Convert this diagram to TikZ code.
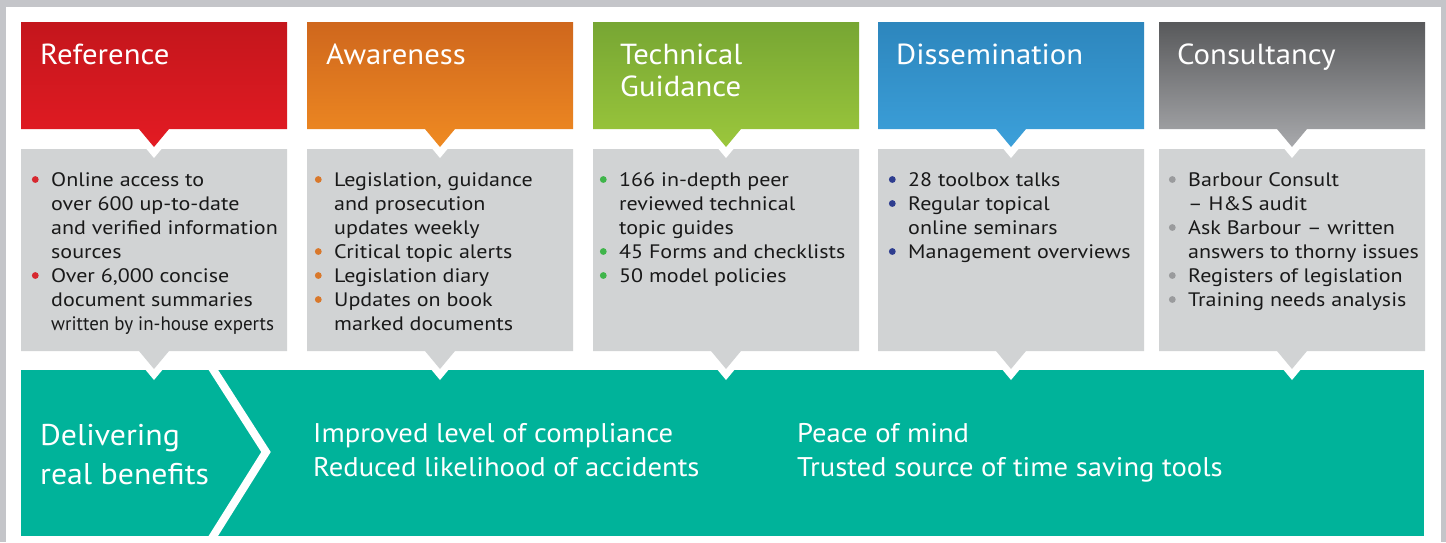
\documentclass[tikz,border=0pt]{standalone}
\usepackage{fontspec}
\usepackage{graphicx}
\setmainfont{PT Sans}
\newfontfamily\listfont{PT Sans}[FakeStretch=1.13]
\newfontfamily\bigfont{PT Sans}[FakeStretch=1.06]
\usetikzlibrary{calc}
\definecolor{framegray}{HTML}{C4C5C9}
\definecolor{boxgray}{HTML}{D1D3D4}
\definecolor{benteal}{HTML}{00B39A}
\definecolor{redtop}{HTML}{C4161C}\definecolor{redbot}{HTML}{E31B23}
\definecolor{orgtop}{HTML}{CF671D}\definecolor{orgbot}{HTML}{EF8A22}
\definecolor{grntop}{HTML}{77A633}\definecolor{grnbot}{HTML}{9BC73C}
\definecolor{blutop}{HTML}{2D86BD}\definecolor{blubot}{HTML}{3CA0DA}
\definecolor{gratop}{HTML}{58595B}\definecolor{grabot}{HTML}{A8A9AC}
\definecolor{redbul}{HTML}{D7282F}
\definecolor{orgbul}{HTML}{D9782B}
\definecolor{grnbul}{HTML}{3FB54A}
\definecolor{blubul}{HTML}{2E3D8F}
\definecolor{grabul}{HTML}{9A9B9D}
\newcommand\bul[1]{\llap{\tikz[baseline=-6.5pt]\fill[#1] (0,0) circle (3.4pt);\hspace{12.5pt}}}
\tikzset{
x=1pt, y=-1pt,
head text/.style={anchor=base west,inner sep=0pt,text=white,align=left,font=\bigfont\fontsize{29}{32}\selectfont},
list text/.style={anchor=base west,inner sep=0pt,text=black!90,align=left,font=\listfont\fontsize{19.5}{24}\selectfont},
benefit text/.style={anchor=base west,inner sep=0pt,text=white,align=left,font=\bigfont\fontsize{27}{34}\selectfont}}

\begin{document}
\begin{tikzpicture}
\useasboundingbox (0,0) rectangle (1446,542);
\fill[framegray] (0,0) rectangle (1446,542);
\fill[white] (6,7) rectangle (1441,542);

% benefits band
\fill[benteal] (21,370) rectangle (1424,536);
\begin{scope}
\clip (21,370) rectangle (1424,536);
\draw[white,line width=8pt,miter limit=10] (207,360) -- (266,452) -- (207,546);
\end{scope}

% columns: left edge / top colour / bottom colour
\foreach \x/\ct/\cb in {21/redtop/redbot,307/orgtop/orgbot,593/grntop/grnbot,878/blutop/blubot,1159/gratop/grabot}{
  \fill[white] (\x+118,362) -- (\x+133,380) -- (\x+148,362) -- cycle;
  \fill[boxgray] (\x,149) rectangle (\x+266,351) (\x+118,351) -- (\x+133,369) -- (\x+148,351) -- cycle;
  \fill[white] (\x+118,140) -- (\x+133,158) -- (\x+148,140) -- cycle;
  \shade[top color=\ct,bottom color=\cb] (\x,22) -- (\x+266,22) -- (\x+266,129) -- (\x+148,129)
    -- (\x+133,147) -- (\x+118,129) -- (\x,129) -- cycle;
}

% base anchor sits on the last line
\node[head text] (reference) at (40,64) {Reference};
\node[head text] (awareness) at (326,64) {Awareness};
\node[head text] (technical) at (620,96) {Technical\\Guidance};
\node[head text] (dissemination) at (896,64) {Dissemination};
\node[head text] (consultancy) at (1177,64) {Consultancy};

\node[list text] (referencelist) at (51,330) {\bul{redbul}Online access to\\over 600 up-to-date\\and verified information\\sources\\
  \bul{redbul}Over 6,000 concise\\document summaries\\\scalebox{0.86}[1]{written by in-house experts}};
\node[list text] (awarenesslist) at (334,330) {\bul{orgbul}Legislation, guidance\\and prosecution\\updates weekly\\
  \bul{orgbul}Critical topic alerts\\\bul{orgbul}Legislation diary\\\bul{orgbul}Updates on book\\marked documents};
\node[list text] (technicallist) at (619,282) {\bul{grnbul}166 in-depth peer\\reviewed technical\\topic guides\\
  \bul{grnbul}45 Forms and checklists\\\bul{grnbul}50 model policies};
\node[list text] (disseminationlist) at (908,258) {\bul{blubul}28 toolbox talks\\\bul{blubul}Regular topical\\online seminars\\
  \bul{blubul}Management overviews};
\node[list text] (consultancylist) at (1188,306) {\bul{grabul}Barbour Consult\\– H\&S audit\\\bul{grabul}Ask Barbour – written\\answers to thorny issues\\
  \bul{grabul}Registers of legislation\\\bul{grabul}Training needs analysis};

\node[benefit text,font=\bigfont\fontsize{30}{39}\selectfont] (delivering) at (40,484) {Delivering\\real benefits};
\node[benefit text] (compliance) at (313,476) {Improved level of compliance\\Reduced likelihood of accidents};
\node[benefit text] (peace) at (797,476) {Peace of mind\\Trusted source of time saving tools};

\end{tikzpicture}
\end{document}
